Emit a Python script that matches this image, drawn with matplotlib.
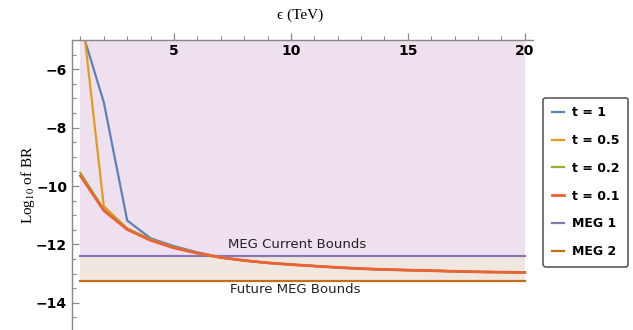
import matplotlib
matplotlib.use("Agg")
import matplotlib.pyplot as plt
import numpy as np

eps = [1, 2, 3, 4, 5, 6, 7, 8, 9, 10, 11, 12, 13, 14, 15, 16, 17, 18, 19, 20]
t1 = [-4.5, -7.13, -11.18, -11.79, -12.06, -12.27, -12.44, -12.55, -12.63, -12.69,
      -12.74, -12.79, -12.83, -12.86, -12.88, -12.90, -12.92, -12.94, -12.95, -12.96]
t05 = [-3.6, -10.69, -11.45, -11.83, -12.10, -12.29, -12.45, -12.55, -12.63, -12.69,
       -12.74, -12.79, -12.83, -12.86, -12.88, -12.90, -12.92, -12.94, -12.95, -12.96]
t02 = [-9.55, -10.80, -11.46, -11.84, -12.11, -12.30, -12.45, -12.55, -12.63, -12.69,
       -12.74, -12.79, -12.83, -12.86, -12.88, -12.90, -12.92, -12.94, -12.95, -12.96]
t01 = [-9.65, -10.84, -11.49, -11.86, -12.12, -12.30, -12.45, -12.55, -12.63, -12.69,
       -12.74, -12.79, -12.83, -12.86, -12.88, -12.90, -12.92, -12.94, -12.95, -12.96]
meg1 = -12.38
meg2 = -13.24
labels = ["t = 1", "t = 0.5", "t = 0.2", "t = 0.1", "MEG 1", "MEG 2"]
colors = ["#5E81B5", "#E19C24", "#8FB032", "#EB6235", "#8778B3", "#C56E1A"]

fig = plt.figure(figsize=(6.33, 3.30), dpi=100)
ax = fig.add_axes([0.1137, 0.0, 0.728, 0.8788])
x0, x1 = eps[0], eps[-1]
ylo, yhi = -14.93, -5.0
ax.set_xlim(0.64, 20.34)
ax.set_ylim(ylo, yhi)

ax.fill_between([x0, x1], [meg1, meg1], [yhi, yhi], color="#EEE0EF", lw=0, zorder=0)
ax.fill_between([x0, x1], [meg2, meg2], [meg1, meg1], color="#F1E7E1", lw=0, zorder=0)

ax.plot(eps, t1, color=colors[0], lw=1.6, label=labels[0], zorder=3)
ax.plot(eps, t05, color=colors[1], lw=1.6, label=labels[1], zorder=3)
ax.plot(eps, t02, color=colors[2], lw=1.6, label=labels[2], zorder=3)
ax.plot(eps, t01, color=colors[3], lw=2.0, label=labels[3], zorder=4)
ax.plot([x0, x1], [meg1, meg1], color=colors[4], lw=1.6, label=labels[4], zorder=2)
ax.plot([x0, x1], [meg2, meg2], color=colors[5], lw=1.6, label=labels[5], zorder=2)

for s in ["right", "top"]:
    ax.spines[s].set_visible(False)
ax.spines["bottom"].set_position(("data", yhi))
ax.spines["left"].set_position(("data", 0.64))
for s in ["bottom", "left"]:
    ax.spines[s].set_color("#888888")
    ax.spines[s].set_linewidth(1.0)
    ax.spines[s].set_zorder(5)

ax.set_xticks([5, 10, 15, 20])
ax.set_xticks(np.arange(1, 21, 1), minor=True)
ax.set_yticks([-14, -12, -10, -8, -6])
ax.set_yticks(np.arange(-14.5, -5.0, 0.5), minor=True)
ax.set_yticklabels(["\u221214", "\u221212", "\u221210", "\u22128", "\u22126"])
ax.tick_params(axis="both", which="both", direction="in", color="#888888")
ax.tick_params(axis="both", which="major", length=5, width=0.9, labelsize=10)
ax.tick_params(axis="both", which="minor", length=3, width=0.8)
ax.tick_params(axis="x", which="major", pad=3)
for lab in ax.get_xticklabels() + ax.get_yticklabels():
    lab.set_fontweight("bold")
for t in ax.xaxis.get_major_ticks():
    t.tick1line.set_clip_on(False)
for t in ax.xaxis.get_minor_ticks():
    t.tick1line.set_clip_on(False)

plt.rcParams["mathtext.fontset"] = "stix"
fig.text(0.474, 0.955, "\u03f5 (TeV)", ha="center", va="center",
         family="Liberation Serif", fontsize=11)
fig.text(0.045, 0.44, "Log$_{10}$ of BR", ha="center", va="center", rotation=90,
         family="Liberation Serif", fontsize=11)

ax.text(10.25, -12.0, "MEG Current Bounds", ha="center", va="center", fontsize=9.5, color="#222222")
ax.text(10.2, -13.55, "Future MEG Bounds", ha="center", va="center", fontsize=9.5, color="#222222")

leg = fig.legend(loc="center", bbox_to_anchor=(0.925, 0.448), frameon=True,
                 fancybox=True, handlelength=1.0, handletextpad=0.6,
                 labelspacing=1.18, borderpad=0.7, borderaxespad=0,
                 prop={"weight": "bold", "size": 9})
leg.get_frame().set_edgecolor("#333333")
leg.get_frame().set_linewidth(1.2)

fig.savefig("out.png", dpi=100)
